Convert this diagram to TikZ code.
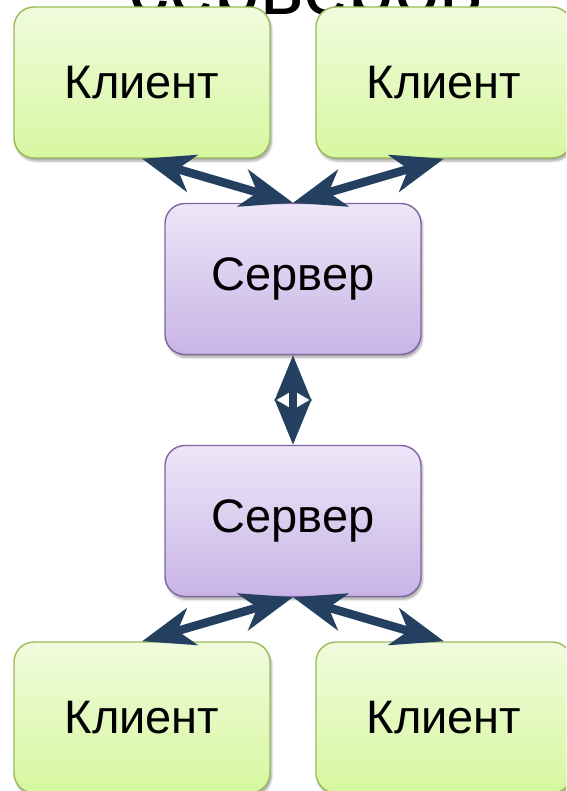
\documentclass[tikz,border=0pt]{standalone}
\usepackage{fontspec}
\setmainfont{Liberation Sans}
\usetikzlibrary{arrows.meta,shadows.blur}
\definecolor{gbord}{HTML}{9BBB59}
\definecolor{gtop}{HTML}{F0FBDD}
\definecolor{gbot}{HTML}{D7F7A0}
\definecolor{pbord}{HTML}{8064A2}
\definecolor{ptop}{HTML}{EDE7F8}
\definecolor{pbot}{HTML}{C8B4E6}
\definecolor{navy}{HTML}{243F60}
\tikzset{
  box/.style={rectangle, rounded corners=20pt, line width=1.4pt,
    minimum width=256pt, minimum height=151pt, inner sep=0pt,
    font=\fontsize{47}{47}\selectfont,
    blur shadow={shadow blur steps=6, shadow xshift=1.5pt, shadow yshift=-3pt, shadow opacity=35}},
  client/.style={box, draw=gbord, top color=gtop, bottom color=gbot},
  server/.style={box, draw=pbord, top color=ptop, bottom color=pbot},
  link/.style={navy, line width=8.5pt,
    {Stealth[length=52pt,width=38pt,inset=15pt]}-{Stealth[length=52pt,width=38pt,inset=15pt]}},
  vlink/.style={navy, line width=8.5pt,
    {Stealth[length=45pt,width=36pt,inset=10pt]}-{Stealth[length=45pt,width=36pt,inset=10pt]}}
}
\begin{document}
\begin{tikzpicture}[x=1pt,y=-1pt]
\useasboundingbox (0,0) rectangle (566,791);
\clip (0,0) rectangle (566,791);
\node[anchor=base west, inner sep=0pt, font=\fontsize{82}{82}\selectfont] (title) at (128,15) {серверов};
\node[client] (c1) at (142,82.5) {\raisebox{-2pt}{Клиент}};
\node[client] (c2) at (444,82.5) {\raisebox{-2pt}{Клиент}};
\node[server] (s1) at (293,279) {\raisebox{-4pt}{Сервер}};
\node[server] (s2) at (293,521) {\raisebox{-4pt}{Сервер}};
\node[client] (c3) at (142,717.5) {\raisebox{-1pt}{Клиент}};
\node[client] (c4) at (444,717.5) {\raisebox{-1pt}{Клиент}};
\draw[link] (c1.south) -- (s1.north);
\draw[link] (c2.south) -- (s1.north);
\draw[vlink] (s1.south) -- (s2.north);
\draw[link] (s2.south) -- (c3.north);
\draw[link] (s2.south) -- (c4.north);
\end{tikzpicture}
\end{document}
